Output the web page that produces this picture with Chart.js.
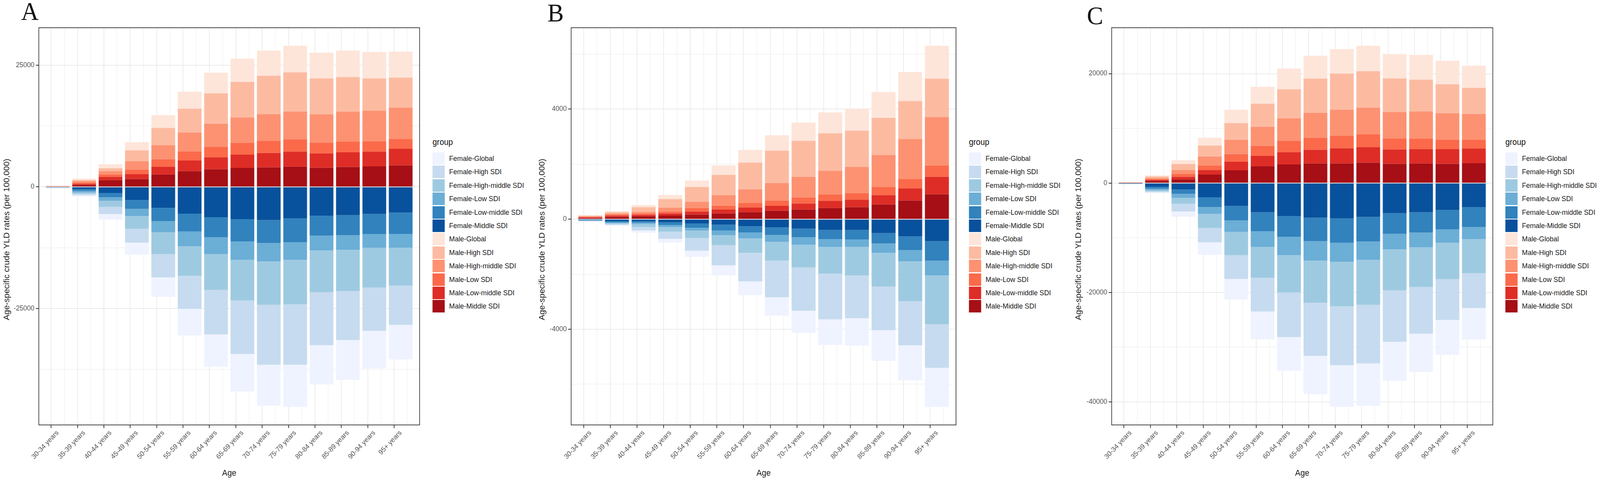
<!DOCTYPE html>
<html>
<head>
<meta charset="utf-8">
<script src="https://cdn.jsdelivr.net/npm/chart.js@4.4.1/dist/chart.umd.min.js"></script>
<style>
  html, body { margin: 0; padding: 0; background: #fff; overflow: hidden; }
  #page { position: absolute; left: 0; top: 0; width: 4328px; height: 1229px; background: #fff; overflow: hidden;
          font-family: 'Liberation Sans', Arial, sans-serif; transform-origin: 0 0; }
  canvas { position: absolute; top: 0; }
  .tag { position: absolute; font-family: 'Liberation Serif', 'Times New Roman', serif;
         font-size: 66px; line-height: 66px; color: #111; }
  .legend { position: absolute; top: 0; }
  .legend-title { position: absolute; left: 0; top: 354px; font-size: 21.5px; line-height: 21.5px;
                  color: #111; white-space: nowrap; }
  .legend-key { position: absolute; left: 0; width: 33px; height: 32px; }
  .legend-label { position: absolute; left: 45px; height: 34.4px; line-height: 34.4px;
                  font-size: 18.5px; color: #1a1a1a; white-space: nowrap; }
</style>
</head>
<body>
<div id="page"></div>
<script>
const ageGroups = ['30-34 years', '35-39 years', '40-44 years', '45-49 years', '50-54 years',
  '55-59 years', '60-64 years', '65-69 years', '70-74 years', '75-79 years', '80-84 years',
  '85-89 years', '90-94 years', '95+ years'];

const groupNames = ['Female-Global', 'Female-High SDI', 'Female-High-middle SDI', 'Female-Low SDI',
  'Female-Low-middle SDI', 'Female-Middle SDI', 'Male-Global', 'Male-High SDI', 'Male-High-middle SDI',
  'Male-Low SDI', 'Male-Low-middle SDI', 'Male-Middle SDI'];

const groupColors = ['#eff3ff', '#c6dbef', '#9ecae1', '#6baed6', '#3182bd', '#08519c',
  '#fee5d9', '#fcbba1', '#fc9272', '#fb6a4a', '#de2d26', '#a50f15'];

// panel A
const aFemaleGlobal = [-25, -260, -1150, -2460, -4000, -5470, -6660, -7700, -8420, -8680, -8090, -8160, -7770, -7140];
const aFemaleHigh = [-30, -300, -1470, -2850, -4780, -6780, -9140, -10970, -12290, -12390, -10910, -10090, -8910, -8030];
const aFemaleHighMiddle = [-35, -260, -1250, -2620, -4490, -6070, -7340, -8360, -8950, -9140, -8590, -8460, -8160, -7830];
const aFemaleLow = [-40, -330, -720, -1480, -2290, -3040, -3510, -3800, -3760, -3640, -3010, -3010, -2850, -2790];
const aFemaleLowMiddle = [-50, -330, -890, -1800, -2720, -3670, -4090, -4590, -4720, -4880, -4130, -4130, -4100, -4420];
const aFemaleMiddle = [-80, -490, -1250, -2720, -4330, -5510, -6230, -6620, -6820, -6490, -5900, -5800, -5570, -5280];
const aMaleGlobal = [20, 300, 830, 1690, 2630, 3480, 4210, 4770, 5180, 5470, 5300, 5440, 5440, 5330];
const aMaleHigh = [25, 240, 610, 2200, 3530, 4900, 6270, 7310, 7880, 8040, 7370, 7110, 6620, 6170];
const aMaleHighMiddle = [30, 270, 670, 1740, 2900, 3890, 4720, 5200, 5520, 5710, 5840, 6130, 6300, 6430];
const aMaleLow = [30, 270, 490, 960, 1530, 1880, 2170, 2440, 2460, 2540, 2200, 2230, 2140, 2030];
const aMaleLowMiddle = [40, 220, 670, 990, 1600, 2190, 2460, 2730, 2950, 3090, 2950, 3000, 3030, 3410];
const aMaleMiddle = [60, 400, 1390, 1610, 2550, 3220, 3620, 3890, 4020, 4150, 3940, 4100, 4210, 4420];
const aMajorTicks = [-25000, 0, 25000];
const aMinorTicks = [-37500, -12500, 12500];

// panel B
const bFemaleGlobal = [-9, -24, -80, -135, -225, -360, -500, -665, -805, -930, -990, -1115, -1275, -1420];
const bFemaleHigh = [-12, -35, -130, -260, -460, -735, -1040, -1335, -1575, -1660, -1560, -1585, -1605, -1585];
const bFemaleHighMiddle = [-12, -35, -100, -175, -275, -360, -520, -685, -825, -975, -1030, -1225, -1445, -1770];
const bFemaleLow = [-12, -30, -50, -65, -100, -175, -220, -245, -280, -285, -275, -340, -410, -535];
const bFemaleLowMiddle = [-15, -40, -60, -100, -155, -210, -220, -275, -305, -330, -345, -380, -500, -710];
const bFemaleMiddle = [-25, -70, -70, -115, -155, -200, -260, -300, -345, -390, -390, -505, -625, -800];
const bMaleGlobal = [18, 38, 80, 150, 235, 345, 460, 560, 665, 760, 795, 940, 1060, 1195];
const bMaleHigh = [22, 50, 165, 310, 535, 735, 970, 1175, 1305, 1360, 1315, 1350, 1375, 1390];
const bMaleHighMiddle = [20, 45, 65, 145, 230, 385, 500, 640, 750, 860, 960, 1165, 1455, 1765];
const bMaleLow = [18, 35, 50, 65, 130, 135, 160, 190, 225, 235, 230, 290, 340, 410];
const bMaleLowMiddle = [25, 45, 50, 80, 110, 145, 170, 180, 215, 260, 275, 340, 445, 635];
const bMaleMiddle = [40, 80, 105, 130, 165, 210, 255, 305, 350, 405, 435, 535, 675, 905];
const bMajorTicks = [-4000, 0, 4000];
const bMinorTicks = [-6000, -2000, 2000, 6000];

// panel C
const cFemaleGlobal = [-20, -150, -975, -2290, -3755, -5070, -6170, -7020, -7630, -7760, -7170, -6960, -6400, -5780];
const cFemaleHigh = [-25, -185, -1405, -2625, -4335, -6170, -8150, -9710, -10750, -10710, -9400, -8550, -7440, -6370];
const cFemaleHighMiddle = [-30, -215, -1070, -2565, -4270, -5650, -6810, -7720, -8120, -8210, -7480, -7240, -6640, -6210];
const cFemaleLow = [-30, -245, -730, -1250, -2080, -2840, -3360, -3540, -3480, -3360, -2840, -2690, -2440, -2210];
const cFemaleLowMiddle = [-40, -370, -795, -1800, -2660, -3480, -3820, -4300, -4460, -4520, -3790, -3720, -3550, -3680];
const cFemaleMiddle = [-65, -670, -1190, -2600, -4180, -5340, -6010, -6320, -6470, -6170, -5500, -5340, -4930, -4370];
const cMaleGlobal = [8, 240, 690, 1425, 2430, 3090, 3780, 4160, 4490, 4640, 4450, 4520, 4300, 4050];
const cMaleHigh = [10, 285, 1090, 2020, 3040, 4210, 5310, 6260, 6610, 6660, 6140, 5800, 5270, 4750];
const cMaleHighMiddle = [10, 190, 715, 1600, 2620, 3500, 4160, 4560, 4780, 4870, 4870, 4970, 4850, 4700];
const cMaleLow = [10, 165, 525, 850, 1380, 1810, 2020, 2190, 2240, 2380, 1970, 1920, 1750, 1620];
const cMaleLowMiddle = [12, 165, 475, 835, 1590, 1950, 2260, 2520, 2780, 2810, 2620, 2640, 2660, 2700];
const cMaleMiddle = [20, 380, 670, 1545, 2330, 3040, 3400, 3570, 3590, 3730, 3520, 3570, 3520, 3620];
const cMajorTicks = [-40000, -20000, 0, 20000];
const cMinorTicks = [-30000, -10000, 10000];

const yTitle = 'Age-specific crude YLD rates (per 100,000)';

Chart.defaults.font.family = "'Liberation Sans', Arial, sans-serif";

// ggplot stacks the last factor level next to zero
const stackOrder = [5, 4, 3, 2, 1, 0, 11, 10, 9, 8, 7, 6];

const panelBorder = {
  id: 'panelBorder',
  afterDatasetsDraw(chart) {
    const {ctx, chartArea: a} = chart;
    ctx.save();
    ctx.strokeStyle = '#333333';
    ctx.lineWidth = 1.8;
    ctx.strokeRect(a.left, a.top, a.right - a.left, a.bottom - a.top);
    ctx.restore();
  }
};

const sideTitle = {
  id: 'sideTitle',
  afterDraw(chart, args, opts) {
    const ctx = chart.ctx;
    ctx.save();
    ctx.translate(opts.x, opts.y);
    ctx.rotate(-Math.PI / 2);
    ctx.font = "21.5px 'Liberation Sans', Arial, sans-serif";
    ctx.fillStyle = '#111';
    ctx.textAlign = 'center';
    ctx.textBaseline = 'middle';
    ctx.fillText(opts.text, 0, 0);
    ctx.restore();
  }
};

const page = document.getElementById('page');
const plotBottom = 1088;

// the browser may give a narrower viewport than the figure; stretch it to fill
const sx = window.innerWidth / 4328;
const sy = window.innerHeight / 1229;
page.style.transform = 'scale(' + sx + ',' + sy + ')';

function tickValue(c) {
  return c && c.tick ? c.tick.value : NaN;
}

function makePanel(p) {
  const canvas = document.createElement('canvas');
  const width = p.plotRight + 12 - p.canvasLeft;
  canvas.style.left = p.canvasLeft + 'px';
  canvas.style.width = width + 'px';
  canvas.style.height = '1229px';
  canvas.width = width;
  canvas.height = 1229;
  page.appendChild(canvas);

  const tag = document.createElement('div');
  tag.className = 'tag';
  tag.textContent = p.tag;
  tag.style.left = p.tagLeft + 'px';
  tag.style.top = p.tagTop + 'px';
  page.appendChild(tag);

  const males = p.series.slice(6);
  const females = p.series.slice(0, 6);
  const tops = ageGroups.map((_, i) => males.reduce((s, a) => s + a[i], 0));
  const bottoms = ageGroups.map((_, i) => females.reduce((s, a) => s + a[i], 0));
  const yMax = Math.max(...tops);
  const yMin = Math.min(...bottoms);
  const pad = (yMax - yMin) * 0.05;

  const yTicks = p.majorTicks.concat(p.minorTicks).sort((u, v) => u - v);
  const xTicks = [];
  for (let v = 1; v <= ageGroups.length; v += 0.5) xTicks.push(v);

  const isMajorX = c => Number.isInteger(tickValue(c));
  const isMajorY = c => p.majorTicks.includes(tickValue(c));

  const datasets = stackOrder.map(g => ({
    label: groupNames[g],
    data: p.series[g].map((v, i) => ({x: i + 1, y: v})),
    backgroundColor: groupColors[g],
    borderColor: groupColors[g],
    borderWidth: 0,
    categoryPercentage: 1,
    barPercentage: 1.8
  }));

  new Chart(canvas, {
    type: 'bar',
    data: {datasets},
    options: {
      responsive: false,
      animation: false,
      layout: {padding: {left: 0, right: 12, top: 71, bottom: 0}},
      plugins: {
        legend: {display: false},
        tooltip: {enabled: false},
        sideTitle: {x: p.yTitleX - p.canvasLeft, y: 613, text: yTitle}
      },
      scales: {
        x: {
          type: 'linear',
          stacked: true,
          min: 0.55,
          max: ageGroups.length + 0.45,
          afterBuildTicks: s => { s.ticks = xTicks.map(v => ({value: v})); },
          afterFit: s => { s.height = 1229 - plotBottom; },
          border: {display: false},
          grid: {
            color: '#ebebeb',
            lineWidth: c => isMajorX(c) ? 2 : 1,
            tickLength: 8,
            tickWidth: 2,
            tickColor: c => isMajorX(c) ? '#333333' : 'rgba(0,0,0,0)'
          },
          ticks: {
            autoSkip: false,
            minRotation: 45,
            maxRotation: 45,
            padding: 2,
            color: '#4d4d4d',
            font: {size: 18},
            callback: v => Number.isInteger(v) ? ageGroups[v - 1] : ''
          },
          title: {display: true, text: 'Age', color: '#111', font: {size: 21.5},
                  padding: {top: 0, bottom: 4}}
        },
        y: {
          stacked: true,
          min: yMin - pad,
          max: yMax + pad,
          afterBuildTicks: s => { s.ticks = yTicks.map(v => ({value: v})); },
          afterFit: s => { s.width = p.plotLeft - p.canvasLeft; },
          border: {display: false},
          grid: {
            color: '#ebebeb',
            lineWidth: c => isMajorY(c) ? 2 : 1,
            tickLength: 8,
            tickWidth: 2,
            tickColor: c => isMajorY(c) ? '#333333' : 'rgba(0,0,0,0)'
          },
          ticks: {
            padding: 4,
            color: '#4d4d4d',
            font: {size: 18},
            callback: v => p.majorTicks.includes(v) ? String(v) : ''
          }
        }
      }
    },
    plugins: [panelBorder, sideTitle]
  });

  const legend = document.createElement('div');
  legend.className = 'legend';
  legend.style.left = p.legendLeft + 'px';
  const title = document.createElement('div');
  title.className = 'legend-title';
  title.textContent = 'group';
  legend.appendChild(title);
  groupNames.forEach((name, i) => {
    const top = 389 + i * 34.4;
    const key = document.createElement('div');
    key.className = 'legend-key';
    key.style.top = (top + 1) + 'px';
    key.style.background = groupColors[i];
    legend.appendChild(key);
    const label = document.createElement('div');
    label.className = 'legend-label';
    label.style.top = top + 'px';
    label.textContent = name;
    legend.appendChild(label);
  });
  page.appendChild(legend);
}

makePanel({
  tag: 'A', tagLeft: 57, tagTop: -4,
  canvasLeft: 0, plotLeft: 105, plotRight: 1135, yTitleX: 19, legendLeft: 1170,
  majorTicks: aMajorTicks, minorTicks: aMinorTicks,
  series: [aFemaleGlobal, aFemaleHigh, aFemaleHighMiddle, aFemaleLow, aFemaleLowMiddle, aFemaleMiddle,
           aMaleGlobal, aMaleHigh, aMaleHighMiddle, aMaleLow, aMaleLowMiddle, aMaleMiddle]
});

makePanel({
  tag: 'B', tagLeft: 1481, tagTop: 0,
  canvasLeft: 1443, plotLeft: 1545, plotRight: 2586, yTitleX: 1467, legendLeft: 2621,
  majorTicks: bMajorTicks, minorTicks: bMinorTicks,
  series: [bFemaleGlobal, bFemaleHigh, bFemaleHighMiddle, bFemaleLow, bFemaleLowMiddle, bFemaleMiddle,
           bMaleGlobal, bMaleHigh, bMaleHighMiddle, bMaleLow, bMaleLowMiddle, bMaleMiddle]
});

makePanel({
  tag: 'C', tagLeft: 2940, tagTop: 7,
  canvasLeft: 2886, plotLeft: 3007, plotRight: 4038, yTitleX: 2918, legendLeft: 4072,
  majorTicks: cMajorTicks, minorTicks: cMinorTicks,
  series: [cFemaleGlobal, cFemaleHigh, cFemaleHighMiddle, cFemaleLow, cFemaleLowMiddle, cFemaleMiddle,
           cMaleGlobal, cMaleHigh, cMaleHighMiddle, cMaleLow, cMaleLowMiddle, cMaleMiddle]
});
</script>
</body>
</html>
